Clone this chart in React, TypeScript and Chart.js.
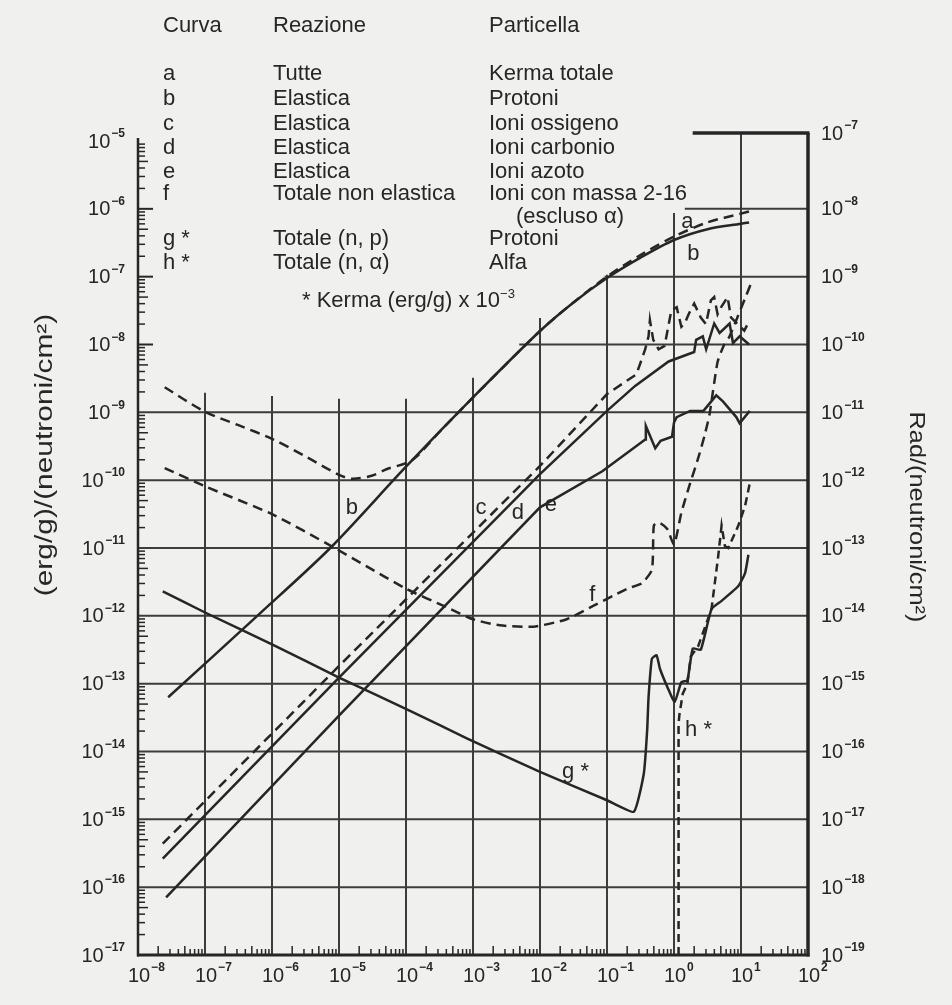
import React, { useEffect, useRef } from "react";
import { Chart, registerables } from "chart.js";

Chart.register(...registerables);

// ---------- axis decades ----------
const energyDecades = [1e-8, 1e-7, 1e-6, 1e-5, 1e-4, 1e-3, 1e-2, 1e-1, 1, 10, 100];
const leftDecades = [1e-17, 1e-16, 1e-15, 1e-14, 1e-13, 1e-12, 1e-11, 1e-10, 1e-9, 1e-8, 1e-7, 1e-6, 1e-5];
const rightDecades = [1e-19, 1e-18, 1e-17, 1e-16, 1e-15, 1e-14, 1e-13, 1e-12, 1e-11, 1e-10, 1e-9, 1e-8, 1e-7];

// ---------- curves (energy MeV, kerma (erg/g)/(n/cm2)) ----------
// a: Tutte - Kerma totale (dashed)
const aEnergy = [2.5e-8, 1e-7, 3.16e-7, 1e-6, 3.16e-6, 1e-5, 1.58e-5, 3.16e-5, 5.1e-5, 1e-4, 1.41e-4, 3.16e-4, 1e-3, 1e-2, 3.16e-2, 0.1, 0.316, 1, 3.16, 10, 14.1];
const aKerma = [2.34e-9, 1.02e-9, 6.46e-10, 4.07e-10, 2.24e-10, 1.2e-10, 1.05e-10, 1.17e-10, 1.45e-10, 1.78e-10, 2.19e-10, 5.13e-10, 1.66e-9, 1.58e-8, 4.17e-8, 1.0e-7, 2.09e-7, 3.89e-7, 6.31e-7, 8.51e-7, 9.33e-7];
// b: Elastica - Protoni (solid)
const bEnergy = [2.82e-8, 6.03e-7, 7.41e-6, 1e-4, 1e-3, 1e-2, 3.16e-2, 0.1, 0.316, 1, 3.16, 10, 13.2];
const bKerma = [6.31e-14, 1e-12, 1e-11, 1.58e-10, 1.66e-9, 1.58e-8, 4.17e-8, 9.55e-8, 1.91e-7, 3.47e-7, 5.01e-7, 6.03e-7, 6.31e-7];
// c: Elastica - Ioni ossigeno (dashed)
const cEnergy = [2.34e-8, 1e-5, 1e-2, 0.1, 0.275, 0.372, 0.417, 0.437, 0.49, 0.589, 0.724, 0.912, 1.096, 1.288, 1.445, 1.66, 2.0, 2.51, 3.0, 3.55, 3.98, 4.47, 5.0, 6.31, 7.08, 8.9, 11.2, 13.2];
const cKerma = [4.37e-16, 1.82e-13, 1.62e-10, 1.86e-9, 3.63e-9, 8.51e-9, 1.32e-8, 2.29e-8, 1.17e-8, 8.51e-9, 9.55e-9, 3.16e-8, 3.55e-8, 1.82e-8, 2.04e-8, 2.82e-8, 4.0e-8, 2.5e-8, 2.0e-8, 4.47e-8, 5.0e-8, 2.8e-8, 3.5e-8, 5.0e-8, 2.5e-8, 2.0e-8, 1.6e-8, 2.2e-8];
// d: Elastica - Ioni carbonio (solid)
const dEnergy = [2.34e-8, 1e-5, 1e-2, 0.1, 0.263, 0.832, 2.0, 2.14, 2.69, 3.02, 3.98, 4.79, 6.76, 7.59, 9.55, 13.2];
const dKerma = [2.63e-16, 1.23e-13, 1.23e-10, 1.05e-9, 2.45e-9, 5.62e-9, 7.76e-9, 1.17e-8, 1.32e-8, 8.51e-9, 2.04e-8, 1.48e-8, 2.04e-8, 1.05e-8, 1.32e-8, 1.0e-8];
// e: Elastica - Ioni azoto (solid)
const eEnergy = [2.63e-8, 1e-5, 1e-2, 8.51e-2, 0.372, 0.38, 0.525, 0.631, 0.933, 1.0, 1.096, 1.74, 2.75, 4.27, 5.37, 8.51, 9.55, 13.5];
const eKerma = [7.08e-17, 3.39e-14, 3.98e-11, 1.35e-10, 3.98e-10, 6.31e-10, 2.95e-10, 3.8e-10, 4.37e-10, 7.08e-10, 8.51e-10, 1.05e-9, 1.05e-9, 1.78e-9, 1.45e-9, 8.51e-10, 6.92e-10, 1.05e-9];
// f: Totale non elastica - Ioni con massa 2-16 (dashed)
const fEnergy = [2.5e-8, 1e-7, 1e-6, 8.32e-6, 1e-4, 3.98e-4, 1e-3, 2.51e-3, 7.94e-3, 2.51e-2, 6.31e-2, 0.126, 0.2, 0.331, 0.468, 0.5, 0.589, 0.794, 1.0, 1.288, 1.698, 2.29, 2.88, 3.39, 4.47, 5.62, 6.76, 14.1];
const fKerma = [1.51e-10, 8.13e-11, 3.16e-11, 1.02e-11, 2.51e-12, 1.35e-12, 8.91e-13, 7.24e-13, 6.92e-13, 8.91e-13, 1.41e-12, 2.0e-12, 2.51e-12, 3.02e-12, 4.79e-12, 2.14e-11, 2.4e-11, 1.91e-11, 1.12e-11, 3.31e-11, 8.32e-11, 2.09e-10, 4.68e-10, 9.33e-10, 5.5e-9, 1.0e-8, 1.32e-8, 7.94e-8];
// g*: Totale (n, p) - Protoni (solid)
const gEnergy = [2.34e-8, 1e-7, 1e-6, 1e-5, 1.15e-4, 7.94e-4, 1e-2, 0.1, 0.251, 0.355, 0.398, 0.417, 0.468, 0.55, 0.617, 0.813, 1.023, 1.288, 1.585, 1.905, 2.51, 3.63, 5.13, 9.12, 11.5, 12.9];
const gKerma = [2.29e-12, 1.12e-12, 3.8e-13, 1.23e-13, 3.98e-14, 1.58e-14, 5.01e-15, 1.91e-15, 1.29e-15, 4.79e-15, 2.09e-14, 6.31e-14, 2.34e-13, 2.63e-13, 1.66e-13, 8.51e-14, 5.37e-14, 1.05e-13, 1.12e-13, 3.31e-13, 3.16e-13, 1.26e-12, 1.66e-12, 2.75e-12, 4.27e-12, 7.94e-12];
// h*: Totale (n, alfa) - Alfa (dashed)
const hEnergy = [1.17, 1.17, 1.2, 1.349, 1.585, 1.778, 2.29, 3.63, 4.57, 5.13, 5.75, 6.46, 9.12, 11.5, 13.5];
const hKerma = [1e-17, 2.51e-14, 3.39e-14, 7.08e-14, 1.0e-13, 2.51e-13, 3.55e-13, 1.26e-12, 7.59e-12, 2.14e-11, 1.07e-11, 1.0e-11, 2.14e-11, 4.17e-11, 8.91e-11];

// ---------- text ----------
const legendCurve = ["a", "b", "c", "d", "e", "f", "g *", "h *"];
const legendReaction = ["Tutte", "Elastica", "Elastica", "Elastica", "Elastica", "Totale non elastica", "Totale (n, p)", "Totale (n, \u03B1)"];
const legendParticle = ["Kerma totale", "Protoni", "Ioni ossigeno", "Ioni carbonio", "Ioni azoto", "Ioni con massa 2-16", "Protoni", "Alfa"];

const curveLabelText = ["a", "b", "b", "c", "d", "e", "f", "g *", "h *"];
const curveLabelEnergy = [1.585, 1.95, 1.55e-5, 1.32e-3, 4.68e-3, 1.45e-2, 6.03e-2, 3.39e-2, 2.32];
const curveLabelKerma = [6.31e-7, 2.19e-7, 3.89e-11, 3.89e-11, 3.24e-11, 4.37e-11, 2.0e-12, 5.0e-15, 2.09e-14];

// ---------- styling ----------
const INK = "#262626";
const GRID = "#3c3c3c";
const PAPER = "#f0f0ee";
const FONT = '"Liberation Sans", Arial, Helvetica, sans-serif';
const TOP_RAISE = 8; // the printed top frame line sits a little above the 10^-5 level

// grid extents (the upper-left corner is left blank for the legend)
const hGridStart = new Map<number, number>([[1e-8, 4.9e-3], [1e-7, 0.092], [1e-6, 1.45]]);
const vGridTop = new Map<number, number>([[1e-7, 1.95e-9], [1e-6, 1.74e-9], [1e-5, 1.58e-9], [1e-4, 1.58e-9], [1e-3, 3.24e-9], [1e-2, 2.45e-8], [1e-1, 1.07e-7], [1, 8.7e-7], [10, 1e-5]]);

const drawPow = (ctx: any, v: number, x: number, y: number, align: string) => {
  const e = String(Math.round(Math.log10(v))).replace("-", "\u2212");
  ctx.font = `20px ${FONT}`;
  const wb = ctx.measureText("10").width;
  ctx.font = `bold 12px ${FONT}`;
  const we = ctx.measureText(e).width;
  let x0 = x - wb / 2;
  if (align === "right") x0 = x - wb - we - 1;
  if (align === "left") x0 = x;
  ctx.textAlign = "left";
  ctx.textBaseline = "middle";
  ctx.font = `20px ${FONT}`;
  ctx.fillText("10", x0, y);
  ctx.font = `bold 12px ${FONT}`;
  ctx.fillText(e, x0 + wb + 1, y - 8);
};

const paperGrid = {
  id: "paperGrid",
  beforeDatasetsDraw(chart: any) {
    const { ctx, scales } = chart;
    const x = scales.x;
    const y = scales.y;
    const line = (x1: number, y1: number, x2: number, y2: number, w: number) => {
      ctx.lineWidth = w;
      ctx.beginPath();
      ctx.moveTo(x1, y1);
      ctx.lineTo(x2, y2);
      ctx.stroke();
    };
    ctx.save();
    ctx.strokeStyle = GRID;
    ctx.lineCap = "butt";
    leftDecades.forEach((v) => {
      if (v <= 1e-17 || v >= 1e-5) return;
      const start = hGridStart.has(v) ? (hGridStart.get(v) as number) : 1e-8;
      const py = y.getPixelForValue(v);
      line(x.getPixelForValue(start), py, x.right, py, 2);
    });
    energyDecades.forEach((v) => {
      if (v <= 1e-8 || v >= 100) return;
      const top = vGridTop.has(v) ? (vGridTop.get(v) as number) : 1e-5;
      const px = x.getPixelForValue(v);
      const py = v >= 10 ? y.top - TOP_RAISE : y.getPixelForValue(top);
      line(px, py, px, y.bottom, 2);
    });
    ctx.strokeStyle = INK;
    line(x.getPixelForValue(1.9), y.top - TOP_RAISE, x.right + 1.5, y.top - TOP_RAISE, 3.5);
    line(x.right, y.top - TOP_RAISE, x.right, y.bottom + 1.5, 3.5);
    line(x.left - 1, y.bottom, x.right + 1.5, y.bottom, 3);
    line(x.left, y.top - 3, x.left, y.bottom + 1.5, 2.5);
    for (let k = -17; k < -5; k++) {
      for (let m = 2; m <= 9; m++) {
        const py = y.getPixelForValue(m * Math.pow(10, k));
        line(x.left, py, x.left + (m === 5 ? 10 : 7), py, 1.5);
      }
    }
    [1e-8, 1e-7, 1e-6].forEach((v) => {
      const py = y.getPixelForValue(v);
      line(x.left, py, x.left + 15, py, 2);
    });
    for (let k = -8; k < 2; k++) {
      for (let m = 2; m <= 9; m++) {
        const px = x.getPixelForValue(m * Math.pow(10, k));
        line(px, y.bottom, px, y.bottom - (m === 5 || m === 2 ? 9 : 6), 1.5);
      }
    }
    ctx.restore();
  },
  afterDraw(chart: any) {
    const { ctx, scales } = chart;
    ctx.save();
    ctx.fillStyle = INK;
    scales.x.ticks.forEach((t: any) => drawPow(ctx, t.value, scales.x.getPixelForValue(t.value) + 1, scales.y.bottom + 21, "center"));
    scales.y.ticks.forEach((t: any) => drawPow(ctx, t.value, scales.x.left - 13, scales.y.getPixelForValue(t.value) + 1, "right"));
    scales.y2.ticks.forEach((t: any) => {
      const py = t.value >= 1e-7 ? scales.y2.top - TOP_RAISE : scales.y2.getPixelForValue(t.value);
      drawPow(ctx, t.value, scales.x.right + 13, py + 1, "left");
    });
    ctx.restore();
  },
};

const curveLabels = {
  id: "curveLabels",
  afterDatasetsDraw(chart: any) {
    const { ctx, scales } = chart;
    ctx.save();
    ctx.fillStyle = INK;
    ctx.font = `22px ${FONT}`;
    ctx.textAlign = "center";
    ctx.textBaseline = "middle";
    curveLabelText.forEach((t, i) => {
      ctx.fillText(t, scales.x.getPixelForValue(curveLabelEnergy[i]), scales.y.getPixelForValue(curveLabelKerma[i]));
    });
    ctx.restore();
  },
};

const mk = (e: number[], k: number[], dash: number[], tension: number) => ({
  data: e.map((v, i) => ({ x: v, y: k[i] })),
  borderColor: INK,
  borderWidth: 2.5,
  borderDash: dash,
  tension,
  pointRadius: 0,
  fill: false,
  xAxisID: "x",
  yAxisID: "y",
});

const hiddenTicks = { display: false };

export default function App() {
  const ref = useRef<HTMLCanvasElement | null>(null);

  useEffect(() => {
    if (!ref.current) return;
    const chart = new Chart(ref.current, {
      type: "line",
      data: {
        datasets: [
          mk(bEnergy, bKerma, [], 0.3),
          mk(aEnergy, aKerma, [10, 6], 0.3),
          mk(cEnergy, cKerma, [10, 6], 0),
          mk(dEnergy, dKerma, [], 0),
          mk(eEnergy, eKerma, [], 0),
          mk(fEnergy, fKerma, [10, 6], 0.2),
          mk(gEnergy, gKerma, [], 0.15),
          mk(hEnergy, hKerma, [8, 5], 0),
        ] as any,
      },
      options: {
        animation: false,
        responsive: false,
        devicePixelRatio: 1,
        layout: { padding: { top: 141, left: 0, right: 0, bottom: 0 } },
        plugins: { legend: { display: false }, tooltip: { enabled: false } },
        scales: {
          x: {
            type: "logarithmic",
            position: "bottom",
            min: 1e-8,
            max: 100,
            grid: { display: false, drawTicks: false },
            border: { display: false },
            afterBuildTicks: (s: any) => {
              s.ticks = energyDecades.map((v) => ({ value: v }));
            },
            afterFit: (s: any) => {
              s.height = 50;
            },
            ticks: hiddenTicks,
          },
          y: {
            type: "logarithmic",
            position: "left",
            min: 1e-17,
            max: 1e-5,
            grid: { display: false, drawTicks: false },
            border: { display: false },
            afterBuildTicks: (s: any) => {
              s.ticks = leftDecades.map((v) => ({ value: v }));
            },
            afterFit: (s: any) => {
              s.width = 138;
            },
            ticks: hiddenTicks,
          },
          y2: {
            type: "logarithmic",
            position: "right",
            min: 1e-19,
            max: 1e-7,
            grid: { display: false, drawTicks: false },
            border: { display: false },
            afterBuildTicks: (s: any) => {
              s.ticks = rightDecades.map((v) => ({ value: v }));
            },
            afterFit: (s: any) => {
              s.width = 144;
            },
            ticks: hiddenTicks,
          },
        },
      } as any,
      plugins: [paperGrid, curveLabels],
    });
    return () => chart.destroy();
  }, []);

  const txt = (left: number, top: number, s: any, key: string) => (
    <div key={key} style={{ position: "absolute", left, top: top - 13, lineHeight: "26px", fontSize: 22, whiteSpace: "nowrap" }}>
      {s}
    </div>
  );

  const rowY = [73, 98, 123, 147, 171, 193, 238, 262];

  return (
    <div style={{ position: "absolute", left: 0, top: 0, width: 952, height: 1005, background: PAPER, fontFamily: FONT, color: INK, overflow: "hidden" }}>
      <canvas ref={ref} width={952} height={1005} style={{ position: "absolute", left: 0, top: 0 }} />
      <div style={{ position: "absolute", left: 0, top: 0, width: 952, height: 1005, pointerEvents: "none" }}>
        {txt(163, 25, "Curva", "h1")}
        {txt(273, 25, "Reazione", "h2")}
        {txt(489, 25, "Particella", "h3")}
        {legendCurve.map((s, i) => txt(163, rowY[i], s, "c" + i))}
        {legendReaction.map((s, i) => txt(273, rowY[i], s, "r" + i))}
        {legendParticle.map((s, i) => txt(489, rowY[i], s, "p" + i))}
        {txt(516, 216, "(escluso \u03B1)", "esc")}
        {txt(
          302,
          300,
          <span>
            * Kerma (erg/g) x 10<sup style={{ fontSize: 13, verticalAlign: "9px", lineHeight: 0 }}>{"\u2212"}3</sup>
          </span>,
          "kerma"
        )}
        <div
          style={{ position: "absolute", left: 44, top: 455, transform: "translate(-50%, -50%) rotate(180deg) scaleY(1.3)", writingMode: "vertical-rl", fontSize: 23, whiteSpace: "nowrap" }}
        >
          (erg/g)/(neutroni/cm²)
        </div>
        <div
          style={{ position: "absolute", left: 917, top: 517, transform: "translate(-50%, -50%) scaleY(1.15)", writingMode: "vertical-rl", fontSize: 22, whiteSpace: "nowrap" }}
        >
          Rad/(neutroni/cm²)
        </div>
      </div>
    </div>
  );
}
